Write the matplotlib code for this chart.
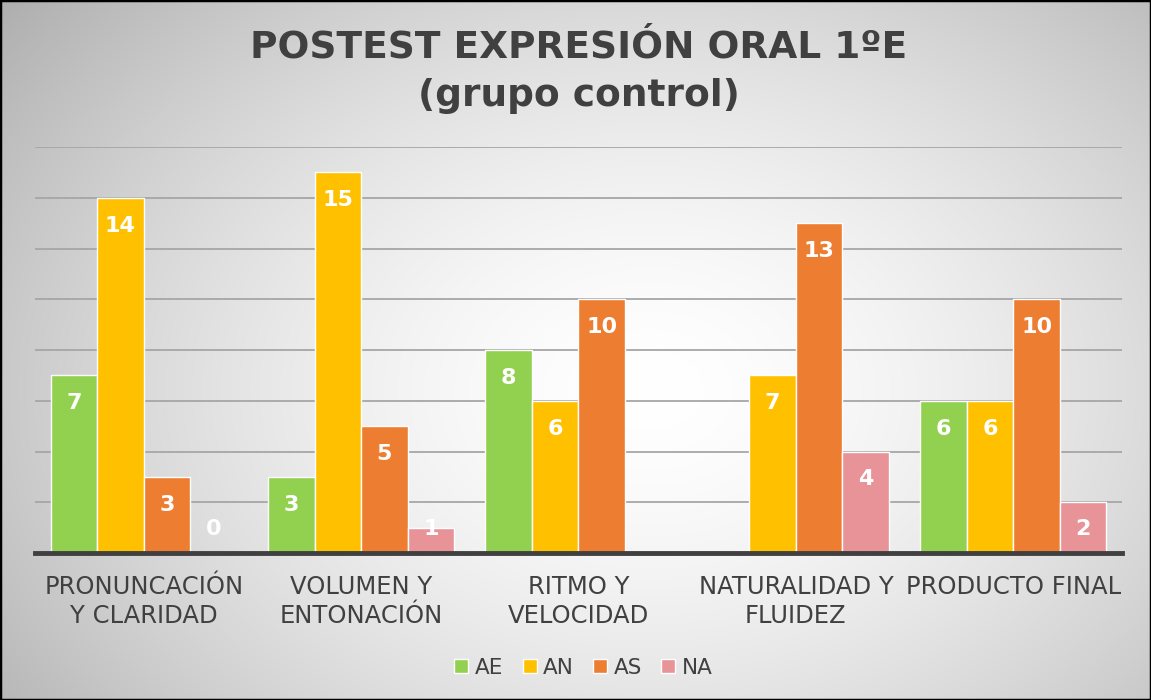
import numpy as np
import matplotlib
matplotlib.use("Agg")
from matplotlib import pyplot as plt
from matplotlib.patches import Rectangle

# data
categories = ["PRONUNCACIÓN\nY CLARIDAD", "VOLUMEN Y\nENTONACIÓN", "RITMO Y\nVELOCIDAD",
              "NATURALIDAD Y\nFLUIDEZ", "PRODUCTO FINAL"]
series_names = ["AE", "AN", "AS", "NA"]
ae = [7, 3, 8, None, 6]
an = [14, 15, 6, 7, 6]
as_ = [3, 5, 10, 13, 10]
na = [0, 1, None, 4, 2]
colors = ["#92d050", "#ffc000", "#ed7d31", "#e79398"]

plt.rcParams["font.family"] = ["DejaVu Sans"]

fig = plt.figure(figsize=(11.51, 7), dpi=100)

# radial gradient background
bg = fig.add_axes([0, 0, 1, 1], zorder=-10)
yy, xx = np.mgrid[0:700, 0:1151]
r = np.sqrt(((xx - 650) / 700.0) ** 2 + ((yy - 390) / 520.0) ** 2)
shade = 1 - 0.24 * np.clip(r, 0, 1.2) ** 1.6
bg.imshow(np.dstack([shade, shade, shade]), aspect="auto", extent=[0, 1, 0, 1], origin="upper")
bg.add_patch(Rectangle((0, 0), 1, 1, transform=bg.transAxes, fill=False, edgecolor="black", lw=2.5))
bg.set_axis_off()

ax = fig.add_axes([0.0304, 0.21, 0.9444, 0.58])
ax.patch.set_alpha(0)

x = np.arange(len(categories))
width = 1 / 4.67
all_series = [ae, an, as_, na]

for i, (name, vals, c) in enumerate(zip(series_names, all_series, colors)):
    vals = np.array([np.nan if v is None else v for v in vals], dtype=float)
    pos = x + (i - 1.5) * width
    ax.bar(pos, vals, width=width, color=c, edgecolor="white", linewidth=1.0, label=name, zorder=3)
    for p, v in zip(pos, vals):
        if np.isnan(v):
            continue
        ax.text(p, max(v - 1.1, 0.95), f"{int(v)}", ha="center", va="center", color="white",
                fontsize=16, fontweight="bold", zorder=4)

ax.set_ylim(0, 16)
ax.set_xlim(-0.5, len(categories) - 0.5)
ax.set_yticks(np.arange(0, 17, 2))
ax.yaxis.grid(True, color="#a6a6a6", linewidth=1.3, zorder=0)
ax.set_axisbelow(True)
ax.tick_params(left=False, labelleft=False, bottom=False)
for s in ["left", "right", "top"]:
    ax.spines[s].set_visible(False)
ax.spines["bottom"].set_color("#404040")
ax.spines["bottom"].set_linewidth(3.5)
ax.spines["bottom"].set_zorder(5)

ax.set_xticks(x)
ax.set_xticklabels(categories, fontsize=17.5, color="#404040", linespacing=1.3)
ax.tick_params(axis="x", pad=12)

fig.text(0.503, 0.932, "POSTEST EXPRESIÓN ORAL 1ºE", ha="center", va="center",
         fontsize=27, fontweight="bold", color="#404040")
fig.text(0.503, 0.863, "(grupo control)", ha="center", va="center",
         fontsize=27, fontweight="bold", color="#404040")

leg = fig.legend(loc="center", bbox_to_anchor=(0.507, 0.046), ncol=4, frameon=False,
                 fontsize=15.5, handlelength=0.65, handleheight=0.65, handletextpad=0.3,
                 columnspacing=0.9)
for t in leg.get_texts():
    t.set_color("#404040")

fig.savefig("out.png", dpi=100)
